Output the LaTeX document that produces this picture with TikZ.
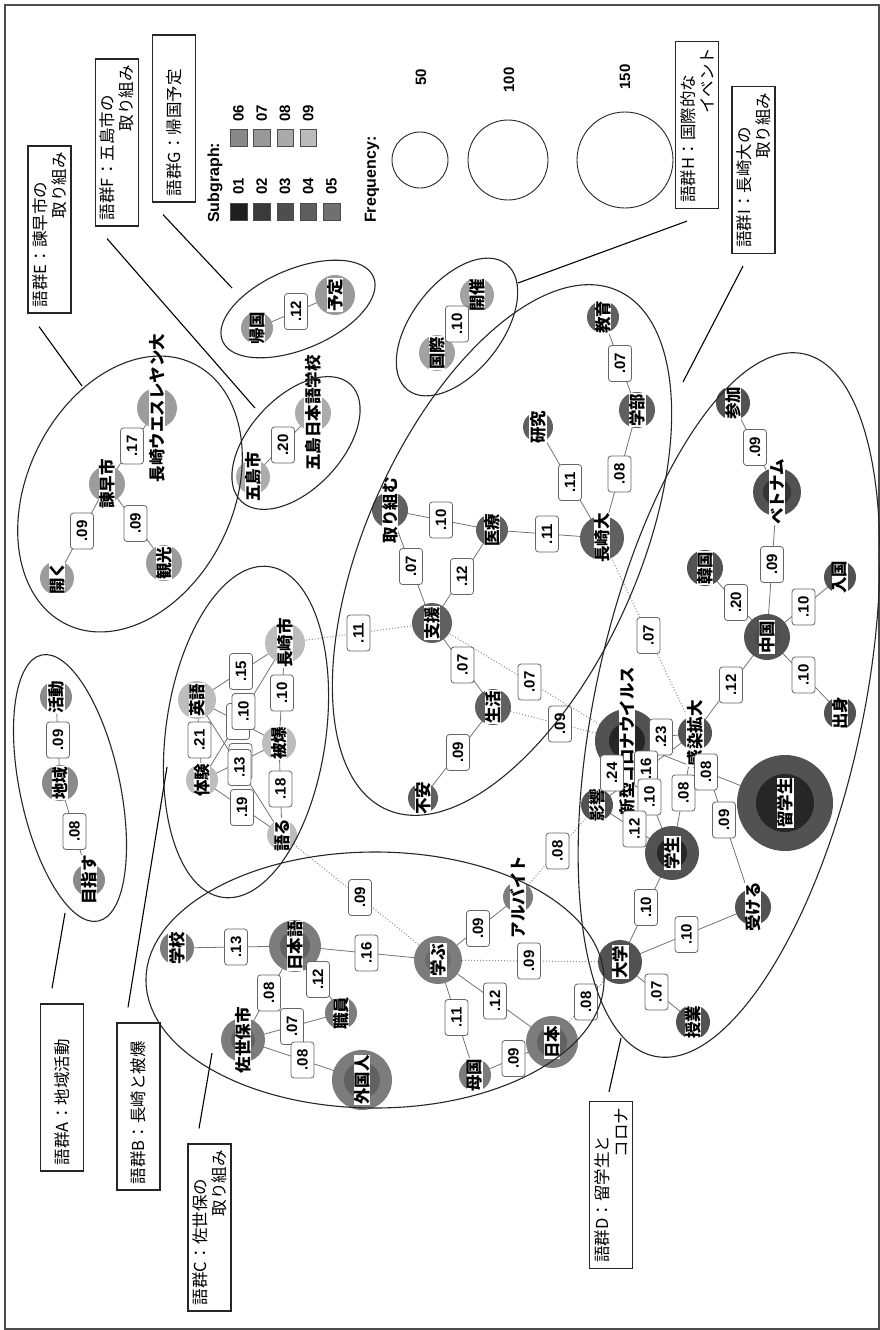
\documentclass[tikz,border=0pt]{standalone}
\usepackage{fontspec}
\newfontfamily\jp{Noto Sans CJK JP}
\newfontfamily\lat{Liberation Sans}
\usetikzlibrary{positioning}

\pgfdeclarelayer{bg}
\pgfsetlayers{bg,main}

\definecolor{cA}{HTML}{8A8A8A}
\definecolor{cB}{HTML}{BDBDBD}
\definecolor{cC}{HTML}{7C7C7C}
\definecolor{cD}{HTML}{525252}
\definecolor{cE}{HTML}{9C9C9C}
\definecolor{cF}{HTML}{ACACAC}
\definecolor{cG}{HTML}{9A9A9A}
\definecolor{cH}{HTML}{A2A2A2}
\definecolor{cI}{HTML}{606060}
\definecolor{s1}{HTML}{1E1E1E}
\definecolor{s2}{HTML}{3A3A3A}
\definecolor{s3}{HTML}{4E4E4E}
\definecolor{s4}{HTML}{5E5E5E}
\definecolor{s5}{HTML}{707070}
\definecolor{s6}{HTML}{888888}
\definecolor{s7}{HTML}{999999}
\definecolor{s8}{HTML}{AAAAAA}
\definecolor{s9}{HTML}{BBBBBB}

\begin{document}
\begin{tikzpicture}[x=1pt, y=-1pt]
	\tikzstyle{box} = [draw=black!85, line width=1.2pt, rotate=90, minimum width=167pt, minimum height=43pt, text width=155pt, align=left, inner sep=0pt, font=\jp\fontsize{16.5}{19}\selectfont]
	\tikzstyle{lead} = [line width=1.1pt]
	\tikzstyle{grp} = [draw=black!85, line width=1.1pt]
	\tikzstyle{wl} = [fill=white, inner sep=0.6pt, rotate=90, font=\jp\bfseries\fontsize{16.5}{16.5}\selectfont]
	\tikzstyle{el} = [draw=black!60, fill=white, rounded corners=3pt, rotate=90, inner sep=1pt, minimum width=36pt, minimum height=23pt, line width=0.8pt, font=\lat\bfseries\fontsize{15}{15}\selectfont]
	\tikzstyle{ln} = [draw=black!55, line width=0.8pt]
	\tikzstyle{dl} = [draw=black!45, line width=1pt, dotted]
	\tikzstyle{leg} = [rotate=90, inner sep=0pt, font=\lat\bfseries\fontsize{15}{15}\selectfont]
	\tikzstyle{sq} = [draw=black!70, minimum size=16.5pt, inner sep=0pt]
	\tikzstyle{ring} = [draw=black!85, circle, inner sep=0pt, line width=0.9pt]
	\tikzset{bub/.style={circle, inner sep=0pt, minimum size=#1},
		core/.style 2 args={path picture={\fill[#2] (path picture bounding box.center) circle (#1pt);}}}

	\useasboundingbox (0,0) rectangle (880,1330);
	\draw[black!70, line width=1.2pt] (5,5) rectangle (879,1329);

	% legend
	\node[leg, font=\lat\bfseries\fontsize{16}{16}\selectfont, anchor=west] (subg) at (215,223) {Subgraph:};
	\foreach \i/\x in {1/238.5, 2/261.75, 3/285, 4/308.25, 5/331.5}{
		\node[sq, fill=s\i] (sq\i) at (\x,211.5) {};
		\node[leg] (sqt\i) at (\x,186) {0\i};
	}
	\foreach \i/\x in {6/238.5, 7/261.75, 8/285, 9/308.25}{
		\node[sq, fill=s\i] (sq\i) at (\x,137.5) {};
		\node[leg] (sqt\i) at (\x,113) {0\i};
	}
	\node[leg, font=\lat\bfseries\fontsize{16}{16}\selectfont, anchor=west] (freq) at (372,223) {Frequency:};
	\node[ring, minimum size=56pt] (f50) at (420,160) {};
	\node[leg] (f50t) at (421,77) {50};
	\node[ring, minimum size=80pt] (f100) at (508,160) {};
	\node[leg] (f100t) at (509,80) {100};
	\node[ring, minimum size=96pt] (f150) at (625,160) {};
	\node[leg] (f150t) at (625,77) {150};

	% group boxes
	\node[box] (grpA) at (62,1087.5) {語群A：地域活動};
	\node[box] (grpB) at (138.5,1106.5) {語群B：長崎と被爆};
	\node[box] (grpC) at (209.5,1227.5) {語群C：佐世保の\\\hspace*{\fill}取り組み};
	\node[box] (grpD) at (611,1185) {語群D：留学生と\\\hspace*{\fill}コロナ};
	\node[box] (grpE) at (49.5,229.5) {語群E：諫早市の\\\hspace*{\fill}取り組み};
	\node[box] (grpF) at (117,142.5) {語群F：五島市の\\\hspace*{\fill}取り組み};
	\node[box] (grpG) at (174,118.5) {語群G：帰国予定};
	\node[box] (grpH) at (697,125) {語群H：国際的な\\\hspace*{\fill}イベント};
	\node[box] (grpI) at (753.5,170) {語群I：長崎大の\\\hspace*{\fill}取り組み};

	\coordinate (eA) at (65,913);
	\coordinate (eB) at (167,767);
	\coordinate (eC) at (212,1053);
	\coordinate (eD) at (621,1038);
	\coordinate (eE) at (82,386);
	\coordinate (eF) at (255,408);
	\coordinate (eG) at (232,288);
	\coordinate (eH) at (518,283);
	\coordinate (eI) at (683,382);
	\draw[lead] (eA) -- ([shift={(-10,-15)}]grpA.east);
	\draw[lead] (eB) -- ([shift={(-10.5,-15)}]grpB.east);
	\draw[lead] (eC) -- ([shift={(-10.5,-15)}]grpC.east);
	\draw[lead] (eD) -- ([shift={(-2,-9)}]grpD.east);
	\draw[lead] (eE) -- ([shift={(-10.5,13)}]grpE.west);
	\draw[lead] (eF) -- ([shift={(-10,12)}]grpF.west);
	\draw[lead] (eG) -- ([shift={(-11,12)}]grpG.west);
	\draw[lead] (eH) -- ([shift={(-10,12)}]grpH.west);
	\draw[lead] (eI) -- ([shift={(-10.5,12)}]grpI.west);

	% words, A
	\node[bub=32pt, fill=cA, label={[wl]center:目指す}] (mezasu) at (89,880) {};
	\node[bub=36pt, fill=cA, label={[wl]center:地域}] (chiiki) at (60,783) {};
	\node[bub=32pt, fill=cA, label={[wl]center:活動}] (katsudo) at (56,697) {};
	% E
	\node[bub=34pt, fill=cE, label={[wl]center:開く}] (hiraku) at (57,578) {};
	\node[bub=36pt, fill=cE, label={[wl]center:諫早市}] (isahaya) at (107,484) {};
	\node[bub=36pt, fill=cE, label={[wl]center:観光}] (kanko) at (164,563) {};
	\node[bub=40pt, fill=cE, label={[wl]center:長崎ウエスレヤン大}] (wesleyan) at (157,408) {};
	% F, G, H
	\node[bub=34pt, fill=cF, label={[wl]center:五島市}] (gotoshi) at (253,477) {};
	\node[bub=36pt, fill=cF, label={[wl]center:五島日本語学校}] (gotojls) at (313,413) {};
	\node[bub=32pt, fill=cG, label={[wl]center:帰国}] (kikoku) at (257,328) {};
	\node[bub=40pt, fill=cG, label={[wl]center:予定}] (yotei) at (335,295) {};
	\node[bub=36pt, fill=cH, label={[wl]center:国際}] (kokusai) at (437,353) {};
	\node[bub=34pt, fill=cH, label={[wl]center:開催}] (kaisai) at (477,295) {};
	% B
	\node[bub=38pt, fill=cB, label={[wl]center:英語}] (eigo) at (197,700) {};
	\node[bub=32pt, fill=cB, label={[wl]center:体験}] (taiken) at (202,780) {};
	\node[bub=34pt, fill=cB, label={[wl]center:被爆}] (hibaku) at (279,743) {};
	\node[bub=40pt, fill=cB, label={[wl]center:長崎市}] (nagasakishi) at (285,643) {};
	\node[bub=30pt, fill=cB, label={[wl]center:語る}] (kataru) at (282,835) {};
	% I
	\node[bub=36pt, fill=cI, label={[wl]center:取り組む}] (torikumu) at (390,510) {};
	\node[bub=32pt, fill=cI, label={[wl]center:医療}] (iryo) at (492,530) {};
	\node[bub=40pt, fill=cI, label={[wl]center:支援}] (shien) at (432,623) {};
	\node[bub=36pt, fill=cI, label={[wl]center:生活}] (seikatsu) at (493,707) {};
	\node[bub=30pt, fill=cI, label={[wl]center:不安}] (fuan) at (423,798) {};
	\node[bub=44pt, fill=cI, label={[wl]center:長崎大}] (nagasakidai) at (602,538) {};
	\node[bub=30pt, fill=cI, label={[wl]center:研究}] (kenkyu) at (538,427) {};
	\node[bub=36pt, fill=cI, label={[wl]center:学部}] (gakubu) at (637,410) {};
	\node[bub=32pt, fill=cI, label={[wl]center:教育}] (kyoiku) at (603,317) {};
	% D
	\node[bub=34pt, fill=cD, label={[wl]center:参加}] (sanka) at (733,403) {};
	\node[bub=48pt, fill=cD, core={14}{black!80}, label={[wl]center:ベトナム}] (betonamu) at (777,492) {};
	\node[bub=36pt, fill=cD, label={[wl]center:韓国}] (kankoku) at (705,568) {};
	\node[bub=32pt, fill=cD, label={[wl]center:入国}] (nyukoku) at (840,577) {};
	\node[bub=46pt, fill=cD, core={13}{black!70}, label={[wl]center:中国}] (chugoku) at (767,637) {};
	\node[bub=32pt, fill=cD, label={[wl]center:出身}] (shusshin) at (840,713) {};
	\node[bub=34pt, fill=cD, label={[wl]center:感染拡大}] (kansen) at (695,733) {};
	\node[bub=64pt, fill=cD, core={18}{black!85}, label={[wl]center:新型コロナウイルス}] (shingata) at (627,741) {};
	\node[bub=32pt, fill=cD, label={[wl]center:影響}] (eikyo) at (597,805) {};
	\node[bub=96pt, fill=cD, core={29}{black!85}, label={[wl]center:留学生}] (ryugakusei) at (785,803) {};
	\node[bub=54pt, fill=cD, core={15}{black!85}, label={[wl]center:学生}] (gakusei) at (672,853) {};
	\node[bub=44pt, fill=cD, label={[wl]center:大学}] (daigaku) at (620,962) {};
	\node[bub=36pt, fill=cD, label={[wl]center:受ける}] (ukeru) at (753,907) {};
	\node[bub=34pt, fill=cD, label={[wl]center:授業}] (jugyo) at (693,1022) {};
	% C
	\node[bub=34pt, fill=cC, label={[wl]center:学校}] (gakko) at (177,948) {};
	\node[bub=52pt, fill=cC, core={15}{black!62}, label={[wl]center:日本語}] (nihongo) at (295,946) {};
	\node[bub=44pt, fill=cC, core={12}{black!62}, label={[wl]center:佐世保市}] (sasebo) at (243,1040) {};
	\node[bub=32pt, fill=cC, label={[wl]center:職員}] (shokuin) at (341,1013) {};
	\node[bub=60pt, fill=cC, core={18}{black!62}, label={[wl]center:外国人}] (gaikokujin) at (362,1080) {};
	\node[bub=48pt, fill=cC, core={13}{black!58}, label={[wl]center:学ぶ}] (manabu) at (438,960) {};
	\node[bub=30pt, fill=cC, label={[wl]center:アルバイト}] (arubaito) at (518,897) {};
	\node[bub=52pt, fill=cC, core={15}{black!62}, label={[wl]center:日本}] (nihon) at (552,1042) {};
	\node[bub=32pt, fill=cC, label={[wl]center:母国}] (bokoku) at (475,1075) {};

	% co-occurrence edges
	\foreach \a/\b/\w in {mezasu/chiiki/.08, chiiki/katsudo/.09,
		hiraku/isahaya/.09, isahaya/kanko/.09, isahaya/wesleyan/.17,
		gotoshi/gotojls/.20, kikoku/yotei/.12, kokusai/kaisai/.10,
		eigo/taiken/.21, eigo/nagasakishi/.15, eigo/hibaku/.16, nagasakishi/taiken/.10,
		taiken/hibaku/.28, eigo/kataru/.13, taiken/kataru/.19, hibaku/nagasakishi/.10, hibaku/kataru/.18,
		torikumu/iryo/.10, torikumu/shien/.07, shien/iryo/.12, iryo/nagasakidai/.11,
		kenkyu/nagasakidai/.11, nagasakidai/gakubu/.08, gakubu/kyoiku/.07,
		shien/seikatsu/.07, seikatsu/fuan/.09,
		sanka/betonamu/.09, betonamu/chugoku/.09, kankoku/chugoku/.20, chugoku/nyukoku/.10,
		chugoku/shusshin/.10, kansen/chugoku/.12, shingata/kansen/.23, shingata/eikyo/.24,
		kansen/eikyo/.16, shingata/gakusei/.10, eikyo/gakusei/.12, kansen/gakusei/.08,
		shingata/ryugakusei/.08, kansen/ukeru/.09, daigaku/gakusei/.10, daigaku/ukeru/.10, daigaku/jugyo/.07,
		gakko/nihongo/.13, sasebo/nihongo/.08, nihongo/shokuin/.12, sasebo/shokuin/.07,
		sasebo/gaikokujin/.08, nihongo/manabu/.16, manabu/arubaito/.09, manabu/nihon/.12,
		manabu/bokoku/.11, bokoku/nihon/.09}{
		\begin{pgfonlayer}{bg}
			\draw[ln] (\a.center) -- (\b.center);
		\end{pgfonlayer}
		\path (\a.center) -- node[el]{\w} (\b.center);
	}
	\foreach \a/\b/\w in {nagasakishi/shien/.11, kataru/manabu/.09, shien/shingata/.07,
		seikatsu/shingata/.09, nagasakidai/kansen/.07, eikyo/arubaito/.08,
		manabu/daigaku/.09, nihon/daigaku/.08}{
		\begin{pgfonlayer}{bg}
			\draw[dl] (\a.center) -- (\b.center);
		\end{pgfonlayer}
		\path (\a.center) -- node[el]{\w} (\b.center);
	}

	% subgraph outlines
	\draw[grp, rotate around={102:(70,788)}] (70,788) ellipse [x radius=136, y radius=50];
	\draw[grp, rotate around={82:(246,732)}] (246,732) ellipse [x radius=167, y radius=80];
	\draw[grp] (375,980) ellipse [x radius=229, y radius=128];
	\draw[grp, rotate around={78:(729,705)}] (729,705) ellipse [x radius=359, y radius=134];
	\draw[grp, rotate around={64:(130,494)}] (130,494) ellipse [x radius=145, y radius=103];
	\draw[grp, rotate around={47:(296,443)}] (296,443) ellipse [x radius=80, y radius=46];
	\draw[grp, rotate around={23:(298,309)}] (298,309) ellipse [x radius=82, y radius=40];
	\draw[grp, rotate around={52:(457,327)}] (457,327) ellipse [x radius=80, y radius=45];
	\draw[grp, rotate around={66:(502,550)}] (502,550) ellipse [x radius=284, y radius=136];
\end{tikzpicture}
\end{document}
